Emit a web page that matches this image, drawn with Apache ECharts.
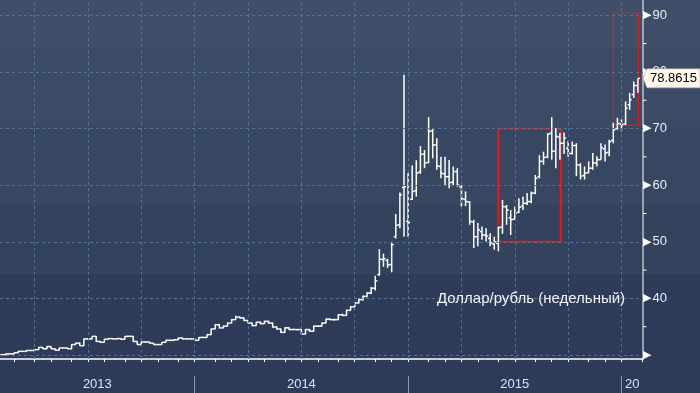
<!DOCTYPE html>
<html><head><meta charset="utf-8">
<script src="https://cdn.jsdelivr.net/npm/echarts@6/dist/echarts.min.js"></script>
<style>html,body{margin:0;padding:0;background:#2d3b58}#c{width:700px;height:393px}</style>
</head><body><div id="c"></div>
<script>
// Weekly USD/RUB bars, first bar = week ending Fri 2013-02-01
const firstWeek = [2013, 1, 1];
const opens = [30.00,30.07,30.20,30.20,30.40,30.65,30.65,30.80,30.80,30.95,31.35,31.10,31.50,31.10,30.85,31.25,31.25,31.10,31.85,32.10,
31.65,32.85,32.85,33.30,32.40,32.25,32.80,32.90,32.85,32.90,32.80,33.30,33.30,32.40,31.85,32.30,32.30,32.10,31.85,31.85,
32.25,32.60,32.60,32.70,33.00,32.85,32.85,32.85,32.60,33.10,33.10,33.60,34.60,35.35,34.80,35.10,35.65,36.25,36.70,36.55,
36.10,35.65,35.20,35.80,35.55,35.95,35.65,34.95,34.60,34.00,34.80,34.50,34.50,34.50,33.70,34.50,34.20,35.10,35.10,35.65,
36.35,36.25,36.25,37.10,37.00,37.90,38.50,39.20,39.80,40.35,40.95,41.80,44.20,46.90,46.70,46.00,50.90,53.00,59.60,53.60,
57.50,59.00,62.30,65.50,64.00,69.60,67.10,63.30,62.00,61.50,60.50,62.40,59.70,57.50,57.00,53.50,50.90,51.80,51.20,50.60,
49.60,49.70,52.60,56.20,54.20,54.00,55.20,56.30,56.80,57.10,58.60,61.50,64.20,65.00,69.20,66.00,68.50,67.40,66.50,65.60,
67.00,63.50,61.70,62.20,63.00,63.90,64.50,66.40,65.80,67.90,70.00,70.80,70.80,74.20,76.00,77.60];
const highs = [30.12,30.25,30.28,30.45,30.72,30.72,30.88,30.86,31.00,31.42,31.40,31.58,31.55,31.15,31.32,31.32,31.30,31.92,32.18,32.20,
32.92,32.95,33.38,33.35,32.48,32.88,32.98,32.98,32.95,32.95,33.38,33.42,33.35,32.45,32.38,32.40,32.35,32.15,31.95,32.32,
32.68,32.70,32.78,33.08,33.10,32.95,32.92,32.90,33.18,33.25,33.68,34.70,35.45,35.50,35.20,35.75,36.35,36.95,36.80,36.65,
36.20,35.75,35.90,35.90,36.05,36.05,35.75,35.05,34.70,34.90,34.90,34.65,34.60,34.55,34.60,34.60,35.20,35.20,35.75,36.45,
36.45,36.40,37.20,37.30,38.00,38.65,39.40,40.00,40.50,41.10,42.00,44.00,48.70,47.90,47.00,50.00,54.90,58.70,79.50,62.10,
63.50,64.40,66.90,66.20,72.00,70.00,68.30,65.00,65.00,64.45,63.30,63.00,60.00,58.90,57.20,53.90,53.30,52.70,52.40,51.50,
50.90,52.70,57.40,56.50,55.60,56.20,57.70,58.00,58.60,58.90,61.80,65.30,65.90,69.20,72.00,70.05,69.20,69.30,67.80,67.70,
67.40,63.90,63.30,64.20,65.70,65.10,67.40,67.20,68.00,71.00,71.90,71.60,74.80,76.30,78.30,78.90];
const lows = [29.95,30.02,30.12,30.15,30.35,30.55,30.60,30.72,30.75,30.90,31.05,31.05,31.05,30.80,30.80,31.18,31.05,31.05,31.80,31.60,
31.60,32.75,32.80,32.35,32.20,32.20,32.75,32.80,32.78,32.75,32.75,33.22,32.35,31.80,31.80,32.22,32.05,31.80,31.78,31.80,
32.20,32.52,32.55,32.65,32.80,32.78,32.75,32.55,32.55,33.02,33.05,33.55,34.55,34.70,34.72,35.05,35.60,36.20,36.45,36.00,
35.55,35.10,35.15,35.45,35.50,35.55,34.85,34.50,33.90,33.95,34.40,34.40,34.35,33.60,33.65,34.10,34.15,34.95,35.05,35.60,
36.15,36.10,36.20,36.90,36.95,37.85,38.45,39.10,39.60,40.20,40.80,41.40,44.00,45.60,45.40,44.60,50.60,52.40,50.90,50.90,
57.40,58.00,62.00,63.00,63.90,64.75,62.70,61.20,60.00,59.45,60.00,59.75,56.20,56.30,53.00,48.90,49.20,50.35,50.05,49.20,
48.60,48.30,51.40,53.00,51.20,53.90,55.10,55.60,56.50,56.80,58.40,61.20,63.60,64.75,64.50,63.00,64.50,65.50,65.00,65.40,
61.60,61.00,61.00,62.10,62.70,63.30,64.50,64.20,65.10,67.40,69.80,69.50,70.60,73.30,75.40,76.30];
const closes = [30.07,30.20,30.20,30.40,30.65,30.65,30.80,30.80,30.95,31.35,31.10,31.50,31.10,30.85,31.25,31.25,31.10,31.85,32.10,31.65,
32.85,32.85,33.30,32.40,32.25,32.80,32.90,32.85,32.90,32.80,33.30,33.30,32.40,31.85,32.30,32.30,32.10,31.85,31.85,32.25,
32.60,32.60,32.70,33.00,32.85,32.85,32.85,32.60,33.10,33.10,33.60,34.60,35.35,34.80,35.10,35.65,36.25,36.70,36.55,36.10,
35.65,35.20,35.80,35.55,35.95,35.65,34.95,34.60,34.00,34.80,34.50,34.50,34.50,33.70,34.50,34.20,35.10,35.10,35.65,36.35,
36.25,36.25,37.10,37.00,37.90,38.50,39.20,39.80,40.35,40.95,41.80,43.10,46.90,47.00,45.90,49.50,52.90,58.30,59.75,53.40,
58.90,62.10,65.45,63.90,69.50,67.10,63.40,62.10,61.50,60.45,62.40,60.00,57.60,57.10,53.60,50.90,52.10,51.20,51.00,49.80,
50.00,52.50,56.20,55.60,53.90,55.00,56.10,56.80,57.10,58.60,61.20,64.20,64.90,69.00,66.00,68.60,67.40,68.30,65.60,67.00,
63.60,61.60,62.10,63.00,63.90,64.50,66.60,65.70,67.70,69.80,70.90,70.70,73.60,75.10,77.60,78.8615];

const yearLabels = ['2013', '2014', '2015', '20'];
const yTickLabels = [30, 40, 50, 60, 70, 80, 90];
const yMinorTicks = [35, 45, 55, 65, 75, 85];
const chartTitle = 'Доллар/рубль (недельный)';
// annotation boxes: [xFrom(bar), yFrom, xTo(bar), yTo]
const boxBig = [121, 50, 136.2, 70];
const boxSmall = [149, 70.6, 155.1, 90.35];

const X_MIN = -0.44, X_MAX = 156.24, Y_MIN = 29.3, Y_MAX = 92.7;
const START = Date.UTC(firstWeek[0], firstWeek[1], firstWeek[2]);
const WEEK = 7 * 86400000;
const barBefore = ts => Math.ceil((ts - START) / WEEK) - 1;

const monthTicks = [], quarterLines = [], yearSeps = [];
for (let y = 2013; y <= 2016; y++) for (let m = 0; m < 12; m++) {
  const ts = Date.UTC(y, m, 1);
  if (ts <= START || ts > Date.UTC(2016, 1, 1)) continue;
  const b = barBefore(ts);
  monthTicks.push(b);
  if (m % 3 === 0) quarterLines.push(b);
  if (m === 0) yearSeps.push(b);
}
const yearBounds = [X_MIN, ...yearSeps, X_MAX];
const yearPos = yearLabels.map((t, k) => (yearBounds[k] + yearBounds[k + 1]) / 2);
const yearMap = {};
yearPos.forEach((p, k) => { yearMap[p.toFixed(3)] = yearLabels[k]; });

const data = closes.map((c, i) => [i, opens[i], highs[i], lows[i], c]);
const FONT = "'Liberation Sans', Arial, sans-serif";

const chart = echarts.init(document.getElementById('c'), null, {renderer: 'canvas'});
chart.setOption({
  animation: false,
  backgroundColor: '#2d3b58',
  graphic: [{
    type: 'rect', z: -10, silent: true,
    shape: {x: 0, y: 0, width: 700, height: 393},
    style: {fill: new echarts.graphic.LinearGradient(0, 0, 0, 1, [
      {offset: 0, color: '#3f4f69'}, {offset: 0.122, color: '#3f4f69'},
      {offset: 0.122, color: '#3b4b65'}, {offset: 0.323, color: '#3b4b65'},
      {offset: 0.323, color: '#374761'}, {offset: 0.525, color: '#374761'},
      {offset: 0.525, color: '#33425d'}, {offset: 0.697, color: '#33425d'},
      {offset: 0.697, color: '#2e3c58'}, {offset: 1, color: '#2d3b58'}
    ])}
  }],
  title: {
    text: chartTitle, left: 437, top: 291, padding: 0,
    textStyle: {color: '#f2f5fa', fontSize: 15, fontWeight: 'normal', fontFamily: FONT}
  },
  grid: {left: 0, right: 57, top: 0, bottom: 34},
  xAxis: [{
    type: 'value', min: X_MIN, max: X_MAX,
    axisLine: {show: true, onZero: false, lineStyle: {color: '#ffffff', width: 1.5}},
    axisTick: {show: true, customValues: monthTicks, length: 3, lineStyle: {color: '#ffffff', width: 1}},
    axisLabel: {show: false}, splitLine: {show: false}
  }, {
    type: 'value', min: X_MIN, max: X_MAX, position: 'bottom', offset: 17,
    axisLine: {show: false, onZero: false},
    axisTick: {show: true, customValues: yearSeps, length: 17, lineStyle: {color: '#8e98aa', width: 1}},
    axisLabel: {show: true, customValues: yearPos, margin: 2, color: '#dce4f0', fontSize: 13, fontFamily: FONT,
      formatter: v => yearMap[v.toFixed(3)] || ''},
    splitLine: {show: false}
  }],
  yAxis: [{
    type: 'value', position: 'right', min: Y_MIN, max: Y_MAX, splitNumber: 6,
    axisLine: {show: true, lineStyle: {color: 'rgba(255,255,255,0)', width: 1}},
    axisTick: {show: false},
    minorTick: {show: false},
    axisLabel: {show: true, customValues: yTickLabels, margin: 0, fontFamily: FONT,
      formatter: v => '{t|▶}' + (v === 30 ? '' : '{v|' + v + '}'),
      rich: {t: {fontSize: 11, color: '#ffffff', padding: [0, 1, 0, 0], fontFamily: 'DejaVu Sans'},
             v: {fontSize: 13, color: '#e8edf5', fontFamily: FONT}}},
    splitLine: {show: false}, minorSplitLine: {show: false}
  }],
  series: [{
    type: 'line', data: [], z: 1, silent: true,
    markLine: {
      silent: true, symbol: 'none', animation: false, label: {show: false},
      lineStyle: {type: [3, 3], color: '#557290', width: 1},
      data: [...quarterLines.map(v => ({xAxis: v})), ...yTickLabels.map(v => ({yAxis: v}))]
    }
  }, {
    type: 'custom', z: 3, data: data, clip: true,
    encode: {x: 0, y: [1, 2, 3, 4]},
    renderItem: function (params, api) {
      const i = api.value(0);
      const pH = api.coord([i, api.value(2)]);
      const pL = api.coord([i, api.value(3)]);
      const pO = api.coord([i, api.value(1)]);
      const pC = api.coord([i, api.value(4)]);
      const x = pH[0];
      const st = {stroke: '#ffffff', lineWidth: 1.5};
      return {type: 'group', children: [
        {type: 'line', shape: {x1: x, y1: pH[1], x2: x, y2: pL[1]}, style: st},
        {type: 'line', shape: {x1: x - 2.1, y1: pO[1], x2: x, y2: pO[1]}, style: st},
        {type: 'line', shape: {x1: x, y1: pC[1], x2: x + 2.1, y2: pC[1]}, style: st}
      ]};
    }
  }, {
    // right value-axis line and its minor ticks
    type: 'custom', z: 4, clip: false, silent: true,
    data: yMinorTicks.map(v => [X_MAX, v]),
    encode: {x: 0, y: 1},
    renderItem: function (params, api) {
      const p = api.coord([api.value(0), api.value(1)]);
      const children = [{type: 'line', shape: {x1: p[0], y1: p[1], x2: p[0] + 3.5, y2: p[1]},
        style: {stroke: '#ffffff', lineWidth: 1}}];
      if (params.dataIndex === 0) {
        const top = api.coord([X_MAX, Y_MAX]);
        const bot = api.coord([X_MAX, Y_MIN]);
        children.push({type: 'line', shape: {x1: top[0], y1: top[1], x2: bot[0], y2: bot[1]},
          style: {stroke: '#ffffff', lineWidth: 1}});
      }
      return {type: 'group', children: children};
    }
  }, {
    type: 'line', data: [], z: 5, silent: true,
    markArea: {
      silent: true,
      data: [
        [{xAxis: boxBig[0], yAxis: boxBig[1], itemStyle: {color: 'rgba(0,0,0,0)', borderColor: '#ff1010', borderWidth: 2}},
         {xAxis: boxBig[2], yAxis: boxBig[3]}],
        [{xAxis: boxSmall[0], yAxis: boxSmall[1], itemStyle: {color: 'rgba(0,0,0,0)', borderColor: '#ff1010', borderWidth: 1}},
         {xAxis: boxSmall[2], yAxis: boxSmall[3]}]
      ]
    },
    markPoint: {
      silent: true,
      data: [{
        coord: [X_MAX, closes[closes.length - 1]],
        symbol: 'path://M0,9.5 L4,0 L57,0 L57,19 L4,19 Z',
        symbolSize: [57, 19], symbolKeepAspect: false, symbolOffset: [28.5, 0],
        itemStyle: {color: '#fff8ec', borderColor: '#b8aa96', borderWidth: 0.5},
        label: {show: true, position: 'inside', offset: [2, 0], color: '#000000', fontSize: 13, fontFamily: FONT,
          formatter: () => closes[closes.length - 1].toFixed(4)}
      }]
    }
  }]
});
</script></body></html>
